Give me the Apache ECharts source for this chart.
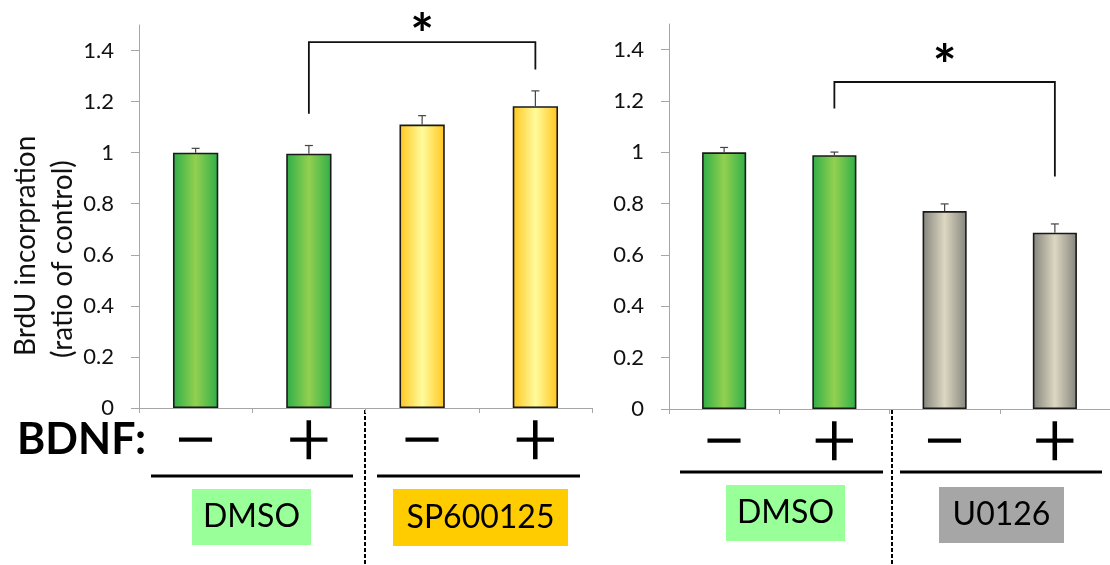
<!DOCTYPE html>
<html>
<head>
<meta charset="utf-8">
<script src="https://cdn.jsdelivr.net/npm/echarts@6/dist/echarts.min.js"></script>
<style>
html,body{margin:0;padding:0;background:#fff;}
#chart{width:1110px;height:565px;}
</style>
</head>
<body>
<div id="chart"></div>
<script>
// ---- data ----
var categories = ['−', '+', '−', '+'];
var yTickLabels = [0, 0.2, 0.4, 0.6, 0.8, 1, 1.2, 1.4];
var leftValues = [1.0, 0.996, 1.11, 1.182];
var leftErrors = [0.017, 0.032, 0.035, 0.06];
var rightValues = [1.0, 0.989, 0.771, 0.687];
var rightErrors = [0.019, 0.012, 0.028, 0.034];
// bracket: [fromIndex, toIndex, topValue, leftLegEnd, rightLegEnd, starValue]
var leftBracket = [1, 3, 1.433, 1.152, 1.326, 1.458];
var rightBracket = [1, 3, 1.274, 1.171, 0.906, 1.331];
var yTitleLine1 = 'BrdU incorpration';
var yTitleLine2 = '(ratio of control)';
var factorLabel = 'BDNF:';
var groupLabels = ['DMSO', 'SP600125', 'DMSO', 'U0126'];

var FONT = 'Lato';
function grad(edge, center) {
  return new echarts.graphic.LinearGradient(0, 0, 1, 0, [
    {offset: 0, color: edge}, {offset: 0.5, color: center}, {offset: 1, color: edge}
  ]);
}
var greenFill = grad('#2eae48', '#92d050');
var yellowFill = grad('#ffc61e', '#fffb9c');
var grayFill = grad('#85847c', '#ddd7c2');

function barData(vals, fills) {
  return vals.map(function (v, i) {
    return {value: v, itemStyle: {color: fills[i]}};
  });
}

function errSeries(gi, vals, errs) {
  return {
    type: 'custom', xAxisIndex: gi, yAxisIndex: gi, z: 5,
    data: vals.map(function (v, i) { return [i, v, v + errs[i]]; }),
    renderItem: function (params, api) {
      var b = api.coord([api.value(0), api.value(1)]);
      var t = api.coord([api.value(0), api.value(2)]);
      return {
        type: 'group', children: [
          {type: 'line', shape: {x1: b[0], y1: b[1], x2: t[0], y2: t[1]}, style: {stroke: '#444', lineWidth: 1.2}},
          {type: 'line', shape: {x1: t[0] - 4, y1: t[1], x2: t[0] + 4, y2: t[1]}, style: {stroke: '#444', lineWidth: 1.2}}
        ]
      };
    }
  };
}

function bracketSeries(gi, br) {
  return {
    type: 'custom', xAxisIndex: gi, yAxisIndex: gi, z: 6, clip: false,
    data: [br],
    renderItem: function (params, api) {
      var a = api.coord([api.value(0), api.value(2)]);
      var b = api.coord([api.value(1), api.value(2)]);
      var la = api.coord([api.value(0), api.value(3)]);
      var rb = api.coord([api.value(1), api.value(4)]);
      var s = api.coord([(api.value(0) + api.value(1)) / 2, api.value(5)]);
      return {
        type: 'group', children: [
          {type: 'polyline', shape: {points: [[la[0], la[1]], [a[0], a[1]], [b[0], b[1]], [rb[0], rb[1]]]},
            style: {stroke: '#111', lineWidth: 1.8, fill: null}},
          {type: 'text', x: s[0], y: s[1], style: {text: '*', font: 'bold 56px ' + FONT, fill: '#000', align: 'center', verticalAlign: 'middle'}}
        ]
      };
    }
  };
}

function xAxisCfg(gi) {
  return {
    type: 'category', gridIndex: gi, data: categories,
    axisLine: {lineStyle: {color: '#a6a6a6', width: 1}},
    axisTick: {show: true, length: 5, lineStyle: {color: '#a6a6a6'}},
    axisLabel: {interval: 0, margin: 32, verticalAlign: 'middle', fontFamily: FONT, fontWeight: 300,
      fontSize: 76, color: '#000', lineHeight: 76, textBorderColor: '#000', textBorderWidth: 1.6}
  };
}
function yAxisCfg(gi) {
  return {
    type: 'value', gridIndex: gi, min: 0, max: 1.5,
    splitLine: {show: false},
    axisLine: {show: true, lineStyle: {color: '#a6a6a6', width: 1}},
    axisTick: {show: true, length: 8, customValues: yTickLabels, lineStyle: {color: '#a6a6a6'}},
    axisLabel: {customValues: yTickLabels, margin: 25, fontFamily: FONT, fontSize: 22, color: '#111',
      formatter: function (v) { return String(v); }}
  };
}

var chart = echarts.init(document.getElementById('chart'), null, {renderer: 'canvas'});
chart.setOption({
  backgroundColor: '#fff',
  animation: false,
  grid: [
    {left: 139, top: 25, width: 453, height: 383},
    {left: 669, top: 24, width: 447, height: 385}
  ],
  xAxis: [xAxisCfg(0), xAxisCfg(1)],
  yAxis: [yAxisCfg(0), yAxisCfg(1)],
  series: [
    {type: 'bar', xAxisIndex: 0, yAxisIndex: 0, barWidth: '40%',
      itemStyle: {borderColor: '#1a1a1a', borderWidth: 1.6},
      data: barData(leftValues, [greenFill, greenFill, yellowFill, yellowFill])},
    {type: 'bar', xAxisIndex: 1, yAxisIndex: 1, barWidth: '40%',
      itemStyle: {borderColor: '#1a1a1a', borderWidth: 1.6},
      data: barData(rightValues, [greenFill, greenFill, grayFill, grayFill])},
    errSeries(0, leftValues, leftErrors),
    errSeries(1, rightValues, rightErrors),
    bracketSeries(0, leftBracket),
    bracketSeries(1, rightBracket)
  ],
  graphic: [
    {type: 'text', x: 26, y: 356, rotation: Math.PI / 2,
      style: {text: yTitleLine1, font: '28px ' + FONT, fill: '#111', align: 'left', verticalAlign: 'middle'}},
    {type: 'text', x: 63, y: 358, rotation: Math.PI / 2,
      style: {text: yTitleLine2, font: '28px ' + FONT, fill: '#111', align: 'left', verticalAlign: 'middle'}},
    {type: 'text', x: 17, y: 440, style: {text: factorLabel, font: 'bold 43px ' + FONT, fill: '#000', align: 'left', verticalAlign: 'middle'}},
    {type: 'line', shape: {x1: 151, y1: 476, x2: 353, y2: 476}, style: {stroke: '#000', lineWidth: 3}},
    {type: 'line', shape: {x1: 377, y1: 476, x2: 580, y2: 476}, style: {stroke: '#000', lineWidth: 3}},
    {type: 'line', shape: {x1: 680, y1: 472, x2: 883, y2: 472}, style: {stroke: '#000', lineWidth: 3}},
    {type: 'line', shape: {x1: 900, y1: 472, x2: 1102, y2: 472}, style: {stroke: '#000', lineWidth: 3}},
    {type: 'line', shape: {x1: 365, y1: 410, x2: 365, y2: 565}, style: {stroke: '#000', lineWidth: 2, lineDash: [4, 2]}},
    {type: 'line', shape: {x1: 892, y1: 410, x2: 892, y2: 565}, style: {stroke: '#000', lineWidth: 2, lineDash: [4, 2]}},
    {type: 'rect', shape: {x: 192, y: 489, width: 119, height: 56}, style: {fill: '#99ff99'}},
    {type: 'text', x: 251.5, y: 517, style: {text: groupLabels[0], font: '32px ' + FONT, fill: '#000', align: 'center', verticalAlign: 'middle'}},
    {type: 'rect', shape: {x: 393, y: 489, width: 175, height: 57}, style: {fill: '#ffcc00'}},
    {type: 'text', x: 480.5, y: 517.5, style: {text: groupLabels[1], font: '32px ' + FONT, fill: '#000', align: 'center', verticalAlign: 'middle'}},
    {type: 'rect', shape: {x: 726, y: 485, width: 119, height: 56}, style: {fill: '#99ff99'}},
    {type: 'text', x: 785.5, y: 513, style: {text: groupLabels[2], font: '32px ' + FONT, fill: '#000', align: 'center', verticalAlign: 'middle'}},
    {type: 'rect', shape: {x: 939, y: 487, width: 125, height: 56}, style: {fill: '#a6a6a6'}},
    {type: 'text', x: 1001.5, y: 515, style: {text: groupLabels[3], font: '32px ' + FONT, fill: '#000', align: 'center', verticalAlign: 'middle'}}
  ]
});
</script>
</body>
</html>
